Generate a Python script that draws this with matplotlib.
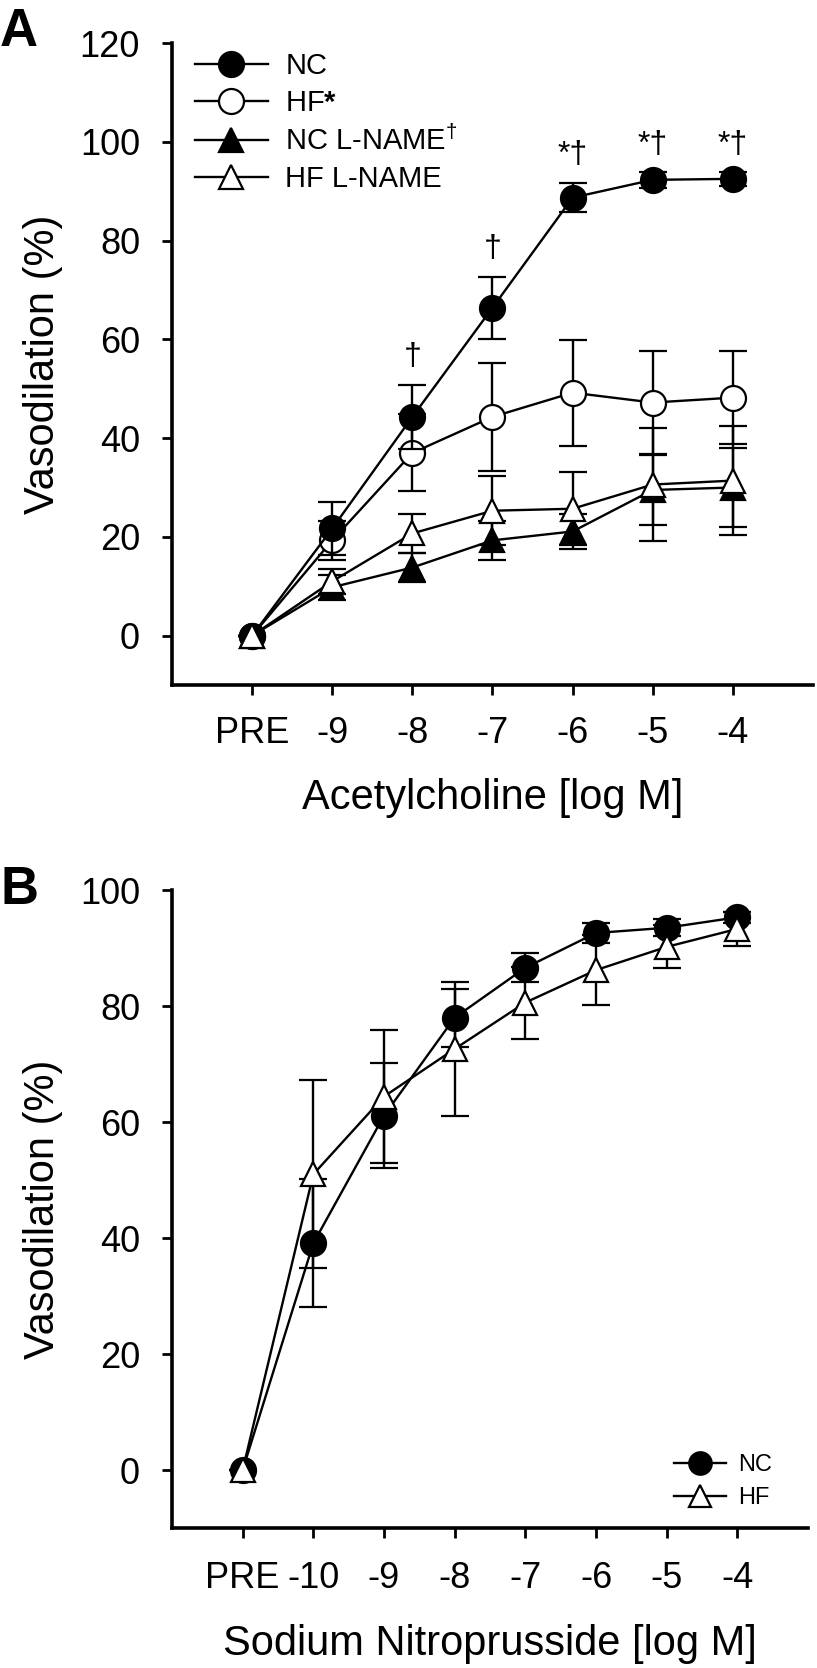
import matplotlib
matplotlib.use("Agg")
import matplotlib.pyplot as plt

plt.rcParams['font.family'] = ['Liberation Sans', 'DejaVu Sans']
plt.rcParams['mathtext.fontset'] = 'custom'
plt.rcParams['mathtext.rm'] = 'Liberation Sans'
plt.rcParams['mathtext.bf'] = 'Liberation Sans:bold'

# Panel A - acetylcholine dose response
ach_labels = ["PRE", "-9", "-8", "-7", "-6", "-5", "-4"]
nc_ach = [0, 21.7, 44.3, 66.4, 88.7, 92.3, 92.5]
nc_ach_err = [0, 5.4, 6.5, 6.3, 3.0, 1.6, 1.4]
hf_ach = [0, 19.3, 37.0, 44.3, 49.2, 47.2, 48.2]
hf_ach_err = [0, 4.0, 7.8, 11.0, 10.7, 10.4, 9.4]
nclm_ach = [0, 9.8, 13.8, 19.3, 21.1, 29.5, 30.0]
nclm_ach_err = [0, 2.5, 3.0, 4.0, 3.5, 7.0, 8.0]
hflm_ach = [0, 11.0, 20.7, 25.3, 25.7, 30.6, 31.4]
hflm_ach_err = [0, 2.5, 4.0, 7.0, 7.4, 11.5, 11.0]
ach_marks = ["", "", "†", "†", "*†", "*†", "*†"]

# Panel B - sodium nitroprusside dose response
snp_labels = ["PRE", "-10", "-9", "-8", "-7", "-6", "-5", "-4"]
nc_snp = [0, 39.1, 61.1, 78.0, 86.6, 92.6, 93.5, 95.3]
nc_snp_err = [0, 11.0, 9.0, 5.0, 2.5, 1.7, 1.5, 1.0]
hf_snp = [0, 51.0, 64.4, 72.6, 80.6, 86.2, 90.2, 93.3]
hf_snp_err = [0, 16.2, 11.4, 11.5, 6.2, 6.0, 3.7, 2.9]

fig = plt.figure(figsize=(8.17, 16.68), dpi=100)

LW = 1.7
MEW = 1.6
CAP = 10


def style_axes(ax, xpad):
    for s in ["top", "right"]:
        ax.spines[s].set_visible(False)
    for s in ["left", "bottom"]:
        ax.spines[s].set_linewidth(2.6)
    ax.tick_params(axis="both", direction="out", length=7, width=2,
                   labelsize=26)
    ax.tick_params(axis="x", pad=xpad)
    ax.tick_params(axis="y", pad=16)


def series(ax, x, y, err, marker, face, ms, z):
    c = ax.errorbar(x, y, yerr=err, fmt="-", marker=marker, color="black",
                    mfc=face, mec="black", ms=ms, mew=MEW, lw=LW,
                    elinewidth=LW, capsize=CAP, capthick=LW, zorder=z)
    return c[0]


# ---- Panel A ----
axA = fig.add_axes([0.2105, 0.5893, 0.7846, 0.3849])
xa = list(range(len(ach_labels)))
hA = [
    series(axA, xa, nc_ach, nc_ach_err, "o", "black", 18, 5),
    series(axA, xa, hf_ach, hf_ach_err, "o", "white", 18, 4),
    series(axA, xa, nclm_ach, nclm_ach_err, "^", "black", 17, 3),
    series(axA, xa, hflm_ach, hflm_ach_err, "^", "white", 17, 6),
]
for xi, yi, ei, m in zip(xa, nc_ach, nc_ach_err, ach_marks):
    if m:
        axA.text(xi, yi + ei + 2.5, m, ha="center", va="bottom", fontsize=23)

axA.set_xlim(-1, 7)
axA.set_ylim(-10, 120)
axA.set_xticks(xa)
axA.set_xticklabels(ach_labels)
axA.set_yticks([0, 20, 40, 60, 80, 100, 120])
style_axes(axA, 15)
axA.set_xlabel("Acetylcholine [log M]", fontsize=30, labelpad=20)
axA.set_ylabel("Vasodilation (%)", fontsize=30, labelpad=12)
axA.legend(hA, ["NC", "HF$\\mathbf{*}$", "NC L-NAME$^{\\dag}$", "HF L-NAME"],
           loc="upper left", bbox_to_anchor=(195 / 817, 1 - 52 / 1668),
           bbox_transform=fig.transFigure, frameon=False, fontsize=21,
           handlelength=2.5, handletextpad=0.6, labelspacing=0.3,
           borderpad=0, borderaxespad=0, markerscale=1.0)
fig.text(0.0, 1 - 7 / 1668, "A", fontsize=38, fontweight="bold",
         ha="left", va="top")

# ---- Panel B ----
axB = fig.add_axes([0.2105, 0.0839, 0.7785, 0.3825])
xb = list(range(len(snp_labels)))
hB = [
    series(axB, xb, nc_snp, nc_snp_err, "o", "black", 18, 4),
    series(axB, xb, hf_snp, hf_snp_err, "^", "white", 17, 5),
]
axB.set_xlim(-1, 8)
axB.set_ylim(-10, 100)
axB.set_xticks(xb)
axB.set_xticklabels(snp_labels)
axB.set_yticks([0, 20, 40, 60, 80, 100])
style_axes(axB, 17)
axB.set_xlabel("Sodium Nitroprusside [log M]", fontsize=30, labelpad=20)
axB.set_ylabel("Vasodilation (%)", fontsize=30, labelpad=12)
axB.legend(hB, ["NC", "HF"], loc="lower right",
           bbox_to_anchor=(0.943, 0.03), frameon=False, fontsize=17,
           handlelength=2.2, handletextpad=0.5, labelspacing=0.45,
           borderpad=0, borderaxespad=0, markerscale=0.9)
fig.text(0.0, 1 - 865 / 1668, "B", fontsize=38, fontweight="bold",
         ha="left", va="top")

fig.savefig("out.png", dpi=100)
